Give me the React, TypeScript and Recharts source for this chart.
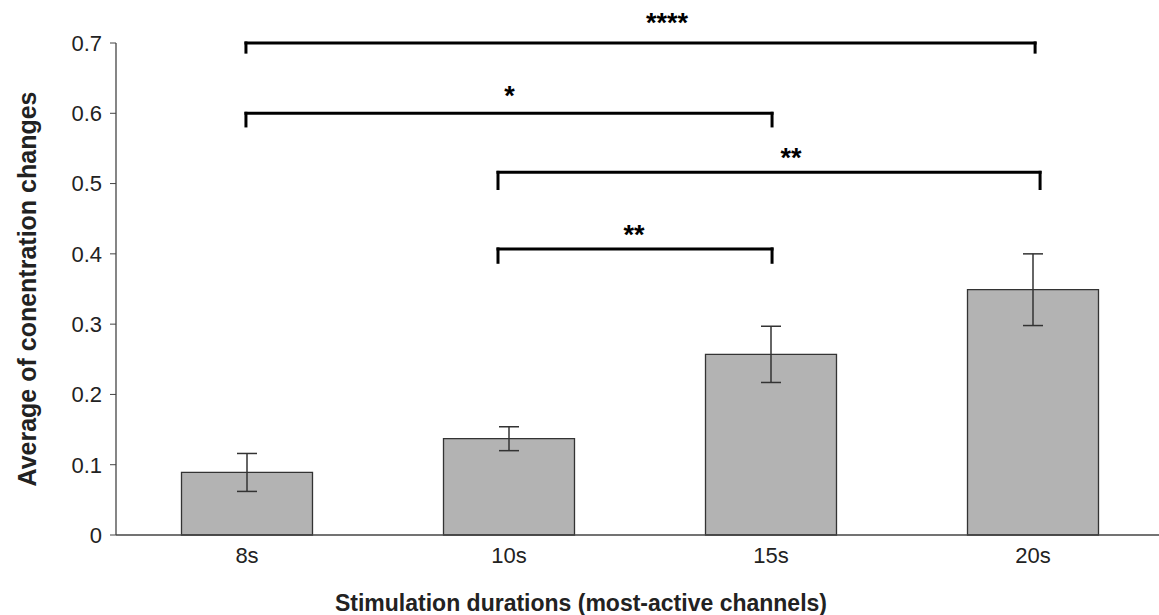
import { Bar, BarChart, ErrorBar, Label, ReferenceDot, ReferenceLine, XAxis, YAxis } from 'recharts';

const durations = ['8s', '10s', '15s', '20s'];
const means = [0.089, 0.137, 0.257, 0.349];
const errors = [0.027, 0.017, 0.04, 0.051];
const yTicks = [0, 0.1, 0.2, 0.3, 0.4, 0.5, 0.6, 0.7];

// significance brackets; x is measured in category slots (0.5 = centre of 8s)
const bracketFrom = [0.496, 0.496, 1.458, 1.458];
const bracketTo = [3.508, 2.504, 3.527, 2.504];
const bracketLevel = [0.7, 0.6, 0.516, 0.407];
const bracketFoot = [0.687, 0.582, 0.493, 0.388];
const starText = ['****', '*', '**', '**'];
const starX = [2.103, 1.502, 2.576, 1.977];
const starY = [0.729, 0.625, 0.537, 0.427];

const data = durations.map((d, i) => ({ duration: d, slot: i + 0.5, mean: means[i], err: errors[i] }));

const font = '"Liberation Sans", Arial, sans-serif';
const ink = '#222';

export default function App() {
  return (
    <div style={{ position: 'absolute', left: 0, top: 0, width: 1159, height: 615, overflow: 'hidden', background: '#fff' }}>
      <BarChart
        width={1170}
        height={615}
        data={data}
        margin={{ top: 43, right: 6, bottom: 0, left: 0 }}
        barCategoryGap="25%"
        style={{ fontFamily: font }}
      >
        <XAxis
          dataKey="duration"
          height={80}
          tickLine={false}
          tickSize={6}
          tickMargin={6}
          axisLine={{ stroke: '#444', strokeWidth: 1.3 }}
          tick={{ fill: ink, fontSize: 22, fontFamily: font }}
        >
          <Label
            value="Stimulation durations (most-active channels)"
            position="insideBottom"
            offset={4}
            dx={-59}
            style={{ fontSize: 23, fontWeight: 'bold', fill: ink, fontFamily: font }}
          />
        </XAxis>
        <XAxis xAxisId="num" dataKey="slot" type="number" domain={[0, 4]} allowDataOverflow hide />
        <YAxis
          width={116}
          domain={[0, 0.7]}
          ticks={yTicks}
          interval={0}
          tickSize={6}
          tickMargin={8}
          axisLine={{ stroke: '#444', strokeWidth: 1.3 }}
          tickLine={{ stroke: '#444' }}
          tick={{ fill: ink, fontSize: 22, fontFamily: font }}
        >
          <Label
            value="Average of conentration changes"
            angle={-90}
            position="insideLeft"
            offset={27}
            style={{ textAnchor: 'middle', fontSize: 25, fontWeight: 'bold', fill: ink, fontFamily: font }}
          />
        </YAxis>
        <Bar dataKey="mean" fill="#b3b3b3" stroke="#333" strokeWidth={1.3} isAnimationActive={false}>
          <ErrorBar dataKey="err" width={10} stroke="#333" strokeWidth={1.5} direction="y" isAnimationActive={false} />
        </Bar>
        {bracketLevel.map((lvl, i) => (
          <ReferenceLine
            key={`h${i}`}
            xAxisId="num"
            segment={[{ x: bracketFrom[i], y: lvl }, { x: bracketTo[i], y: lvl }]}
            stroke="#000"
            strokeWidth={3}
            strokeLinecap="square"
            ifOverflow="visible"
          />
        ))}
        {bracketLevel.map((lvl, i) => (
          <ReferenceLine
            key={`l${i}`}
            xAxisId="num"
            segment={[{ x: bracketFrom[i], y: lvl }, { x: bracketFrom[i], y: bracketFoot[i] }]}
            stroke="#000"
            strokeWidth={3}
            strokeLinecap="square"
            ifOverflow="visible"
          />
        ))}
        {bracketLevel.map((lvl, i) => (
          <ReferenceLine
            key={`r${i}`}
            xAxisId="num"
            segment={[{ x: bracketTo[i], y: lvl }, { x: bracketTo[i], y: bracketFoot[i] }]}
            stroke="#000"
            strokeWidth={3}
            strokeLinecap="square"
            ifOverflow="visible"
          />
        ))}
        {starText.map((s, i) => (
          <ReferenceDot
            key={`s${i}`}
            xAxisId="num"
            x={starX[i]}
            y={starY[i]}
            r={0}
            stroke="none"
            fill="none"
            ifOverflow="visible"
            label={{ value: s, position: 'center', fill: '#000', fontSize: 27, fontWeight: 'bold', fontFamily: font }}
          />
        ))}
      </BarChart>
    </div>
  );
}
